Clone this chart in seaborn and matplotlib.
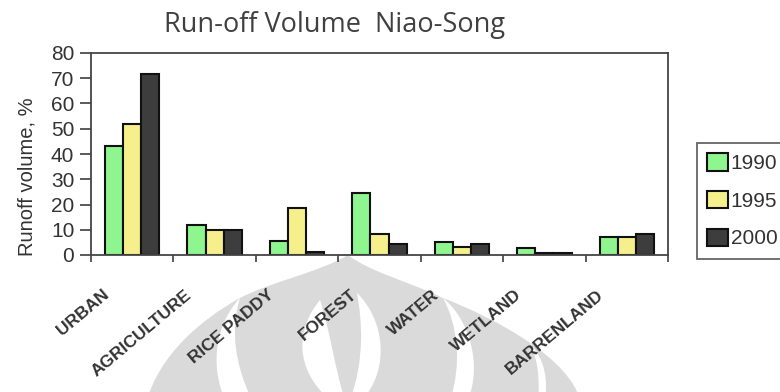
import numpy as np
import pandas as pd
import matplotlib
matplotlib.use("Agg")
import matplotlib.pyplot as plt
import matplotlib.transforms as mtransforms
from matplotlib.path import Path
from matplotlib.patches import PathPatch
import seaborn as sns

# Land-use categories and run-off volume (%) per survey year
categories = ["URBAN", "AGRICULTURE", "RICE PADDY", "FOREST", "WATER", "WETLAND", "BARRENLAND"]
years = ["1990", "1995", "2000"]
runoff_1990 = [43, 12, 5.5, 24.5, 5.3, 2.8, 7.2]
runoff_1995 = [52, 10, 18.5, 8.5, 3, 0.8, 7.2]
runoff_2000 = [71.5, 10, 1, 4.5, 4.3, 0.8, 8.5]
y_ticks = [0, 10, 20, 30, 40, 50, 60, 70, 80]

df = pd.DataFrame({
    "category": categories * 3,
    "year": [years[0]] * 7 + [years[1]] * 7 + [years[2]] * 7,
    "runoff": runoff_1990 + runoff_1995 + runoff_2000,
})
palette = {"1990": "#8ff58f", "1995": "#f5f08c", "2000": "#3d3d3d"}

sns.set_style("white")
plt.rcParams["font.family"] = ["Liberation Sans", "DejaVu Sans"]

W, H = 780, 392
fig = plt.figure(figsize=(W / 100, H / 100), dpi=100)
fig.patch.set_facecolor("white")

# faint emblem printed behind the category labels
bg = fig.add_axes([0, 0, 1, 1], zorder=0)
bg.set_xlim(0, W)
bg.set_ylim(H, 0)
bg.axis("off")
M, C, L, Z = Path.MOVETO, Path.CURVE4, Path.LINETO, Path.CLOSEPOLY


def shape(points, codes, color):
    bg.add_patch(PathPatch(Path(points, codes), facecolor=color, edgecolor="none"))


shape([(348, 255), (320, 272), (270, 282), (240, 298), (200, 320), (160, 355), (147, 400),
       (580, 400), (570, 360), (500, 320), (443, 298), (410, 282), (370, 272), (348, 255),
       (348, 255)],
      [M, C, C, C, C, C, C, L, C, C, C, C, C, C, Z], "#dadada")
for pts in [
    [(240, 298), (215, 325), (210, 365), (225, 400), (252, 400), (235, 365), (230, 330), (240, 298)],
    [(443, 298), (470, 320), (482, 365), (468, 400), (450, 400), (462, 365), (458, 325), (443, 298)],
    [(530, 343), (545, 360), (548, 380), (545, 400), (538, 400), (540, 380), (538, 360), (530, 343)],
    [(320, 300), (295, 330), (295, 370), (330, 400), (345, 400), (335, 370), (330, 330), (320, 300)],
    [(357, 293), (385, 320), (390, 370), (362, 400), (350, 400), (365, 360), (362, 320), (357, 293)],
]:
    shape(pts + [pts[0]], [M, C, C, C, L, C, C, C, Z], "white")

ax = fig.add_axes([91 / W, 1 - 255 / H, 577 / W, 202 / H], zorder=1)
sns.barplot(data=df, x="category", y="runoff", hue="year", palette=palette,
            order=categories, hue_order=years, width=0.66, gap=0, saturation=1,
            edgecolor="#111111", linewidth=1.5, errorbar=None, ax=ax)

ax.set_ylim(0, 80)
ax.set_xlim(-0.5, len(categories) - 0.5)
ax.set_yticks(y_ticks)
ax.tick_params(axis="y", direction="out", length=8, width=1.2, color="#404040",
               labelsize=15, labelcolor="#333333", pad=4, left=True)

# tick marks between categories, labels under each category
ax.set_xticks(np.arange(-0.5, len(categories), 1.0))
ax.set_xticklabels([])
ax.set_xticks(np.arange(len(categories)), minor=True)
ax.set_xticklabels(categories, minor=True, rotation=40, ha="right", va="top",
                   fontsize=12.5, fontweight="bold", color="#333333")
ax.tick_params(axis="x", which="major", direction="out", length=5, width=1.2,
               color="#404040", bottom=True)
ax.tick_params(axis="x", which="minor", length=0, pad=0)
shift = mtransforms.ScaledTranslation(-0.2, -0.32, fig.dpi_scale_trans)
for lab in ax.get_xticklabels(minor=True):
    lab.set_transform(lab.get_transform() + shift)

ax.set_xlabel("")
ax.set_ylabel("Runoff volume, %", fontsize=14.5, color="#333333")
ax.yaxis.set_label_coords(-0.094, 0.39)

for side in ["left", "right", "top", "bottom"]:
    ax.spines[side].set_visible(True)
    ax.spines[side].set_color("#454545")
    ax.spines[side].set_linewidth(1.3)
ax.set_facecolor("white")

handles, labels = ax.get_legend_handles_labels()
ax.legend_.remove()
leg = ax.legend(handles, labels, loc="upper left",
                bbox_to_anchor=(697 / W, 1 - 143 / H), bbox_transform=fig.transFigure,
                borderaxespad=0, frameon=True, fancybox=False, fontsize=15,
                handlelength=1.0, handleheight=0.9, handletextpad=0.12,
                labelspacing=0.85, borderpad=0.5)
leg.get_frame().set_edgecolor("#404040")
leg.get_frame().set_linewidth(1.3)
for t in leg.get_texts():
    t.set_color("#333333")

fig.text(334 / W, 1 - 25 / H, "Run-off Volume  Niao-Song", ha="center", va="center",
         fontsize=19.5, color="#404040", family=["Open Sans", "DejaVu Sans"])

fig.savefig("out.png", dpi=100)
